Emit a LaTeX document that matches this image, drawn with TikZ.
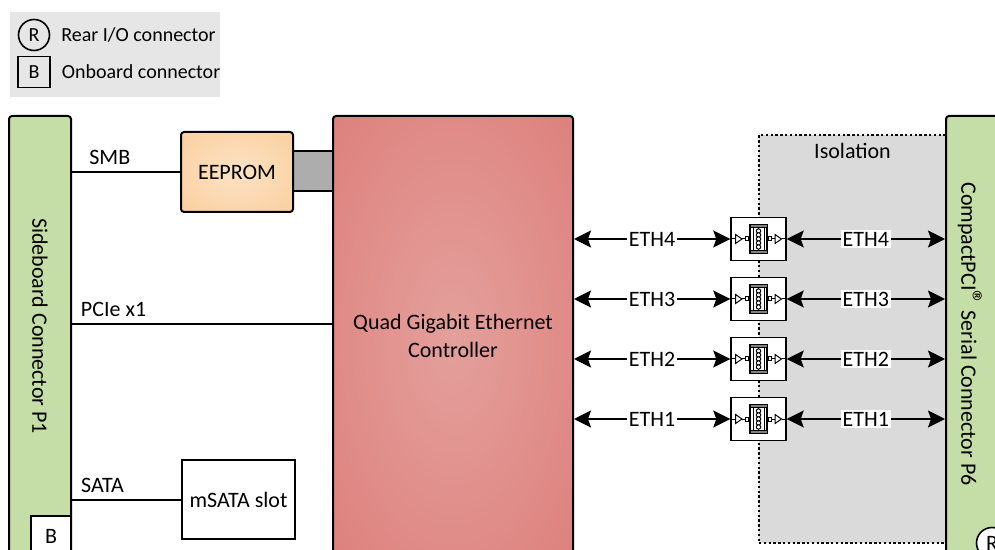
\documentclass[tikz,border=0pt]{standalone}
\usepackage{fontspec}
\setmainfont{Carlito}
\usetikzlibrary{arrows.meta,positioning}

\definecolor{conngreen}{RGB}{197,221,166}
\definecolor{ctrlin}{RGB}{228,160,156}
\definecolor{ctrlout}{RGB}{219,116,112}
\definecolor{eepin}{RGB}{252,226,196}
\definecolor{eepout}{RGB}{249,200,143}
\definecolor{isogray}{RGB}{218,218,218}
\definecolor{leggray}{RGB}{230,230,230}
\definecolor{padgray}{RGB}{173,173,173}

\pgfdeclareradialshading{ctrlglow}{\pgfpointorigin}{color(0bp)=(ctrlin); color(50bp)=(ctrlout); color(72bp)=(ctrlout)}
\pgfdeclareradialshading{eepglow}{\pgfpointorigin}{color(0bp)=(eepin); color(50bp)=(eepout); color(72bp)=(eepout)}

\newcommand{\regmark}{{\fontsize{15}{15}\selectfont\textregistered}}

\tikzset{
  lbl/.style={font=\fontsize{11}{14}\selectfont},
  legtxt/.style={font=\fontsize{10}{12}\selectfont},
  blk/.style={draw, line width=1pt, rounded corners=1.5pt, lbl, inner sep=0pt},
  conn/.style={blk, fill=conngreen},
  link/.style={line width=1pt},
  eth/.style={line width=1pt, arrows={Stealth[length=8.5pt,width=8.5pt,inset=1.5pt]-Stealth[length=8.5pt,width=8.5pt,inset=1.5pt]}},
  ethlbl/.style={lbl, fill=white, inner sep=1pt},
  xbox/.style={draw, fill=white, line width=0.7pt, minimum width=27.5pt, minimum height=21.5pt, inner sep=0pt},
  trafo/.pic={
    \draw[line width=0.5pt] (-27,0) -- (-23,0) (-16.5,0) -- (-13,0) (-10,0) -- (-8.5,0)
      (8.5,0) -- (10,0) (13,0) -- (16.5,0) (23,0) -- (27,0);
    \draw[line width=0.5pt, fill=white] (-23,-4.5) -- (-23,4.5) -- (-16.5,0) -- cycle;
    \draw[line width=0.5pt, fill=white] (16.5,-4.5) -- (16.5,4.5) -- (23,0) -- cycle;
    \draw[line width=0.5pt, fill=white] (-13,-2) rectangle (-10,2);
    \draw[line width=0.5pt, fill=white] (10,-2) rectangle (13,2);
    \draw[line width=0.6pt, fill=white] (-8.5,-14.5) rectangle (8.5,14.5);
    \draw[line width=0.4pt, fill=gray] (-8.5,-14.5) rectangle (8.5,-11.5);
    \draw[line width=0.4pt, fill=gray] (-8.5,11.5) rectangle (8.5,14.5);
    \draw[line width=0.4pt] (-5.5,-11.5) -- (-5.5,11.5) (5.5,-11.5) -- (5.5,11.5) (0,-11.5) -- (0,11.5);
    \foreach \c in {-8,-4,0,4,8} {\draw[line width=0.5pt, fill=white] (0,\c) circle (2.2);}
  }
}

\begin{document}
\begin{tikzpicture}[x=0.5pt, y=-0.5pt]
\useasboundingbox (0,0) rectangle (995,550);

% legend
\node[fill=leggray, minimum width=105pt, minimum height=42.5pt, inner sep=0pt] (legend) at (115,54.5) {};
\node[draw, circle, line width=0.8pt, minimum size=15.5pt, inner sep=0pt, legtxt] (legR) at (34,35) {R};
\node[legtxt, right=2pt of legR] (legRtxt) {Rear I/O connector};
\node[draw, line width=0.8pt, minimum width=16pt, minimum height=15.5pt, inner sep=0pt, legtxt] (legB) at (34,72) {B};
\node[legtxt, right=2pt of legB] (legBtxt) {Onboard connector};

% sideboard connector
\node[conn, minimum width=31pt, minimum height=222pt] (p1) at (40,338) {};
\node[lbl, rotate=-90] (p1txt) at (40,326) {Sideboard Connector P1};
\node[blk, fill=white, rounded corners=0pt, minimum width=20pt, minimum height=20pt] (p1b) at (51,536) {B};

% eeprom, controller, msata
\node[draw, fill=padgray, line width=1pt, minimum width=20pt, minimum height=20pt, inner sep=0pt] (pad) at (313,171) {};
\node[blk, shading=eepglow, minimum width=56pt, minimum height=40pt] (eeprom) at (237,172) {EEPROM};
\node[blk, shading=ctrlglow, minimum width=120pt, minimum height=222pt] (ctrl) at (453,338) {};
\node[lbl, align=center] (ctrltxt) at (453,336) {Quad Gigabit Ethernet\\Controller};
\node[blk, fill=white, rounded corners=0pt, minimum width=56.5pt, minimum height=39.5pt] (msata) at (238.5,499.5) {mSATA slot};
\coordinate (pcie) at (ctrl.west |- 0,324);

\draw[link] (p1.east |- eeprom.west) -- node[lbl, above, inner sep=3pt, pos=0.35] (smb) {SMB} (eeprom.west);
\draw[link] (p1.east |- pcie) -- node[lbl, above, inner sep=3pt, pos=0.16] (pcielbl) {PCIe x1} (pcie);
\draw[link] (p1.east |- msata.west) -- node[lbl, above, inner sep=3pt, pos=0.28] (sata) {SATA} (msata.west);

% isolation
\node[draw, fill=isogray, line width=1pt, dash pattern=on 1.2pt off 1.2pt, minimum width=93.5pt, minimum height=204pt] (iso) at (852.5,339) {};
\node[lbl] (isotxt) at (852.5,151) {Isolation};

% cPCI serial connector
\node[conn, minimum width=32pt, minimum height=222pt] (p6) at (978,338) {};
\node[lbl, rotate=-90] (p6txt) at (970,334) {CompactPCI\regmark{} Serial Connector P6};
\node[draw, circle, fill=white, line width=0.8pt, minimum size=15.5pt, inner sep=0pt, lbl] (p6r) at (992,543) {R};

% ethernet channels
\foreach \n/\y in {4/239, 3/299, 2/359, 1/419} {
  \node[xbox] (tr\n) at (758.5,\y) {};
  \pic at (tr\n.center) {trafo};
  \draw[eth] (ctrl.east |- tr\n.west) -- node[ethlbl] (ethl\n) {ETH\n} (tr\n.west);
  \draw[eth] (tr\n.east) -- node[ethlbl] (ethr\n) {ETH\n} (p6.west |- tr\n.east);
}

\end{tikzpicture}
\end{document}
